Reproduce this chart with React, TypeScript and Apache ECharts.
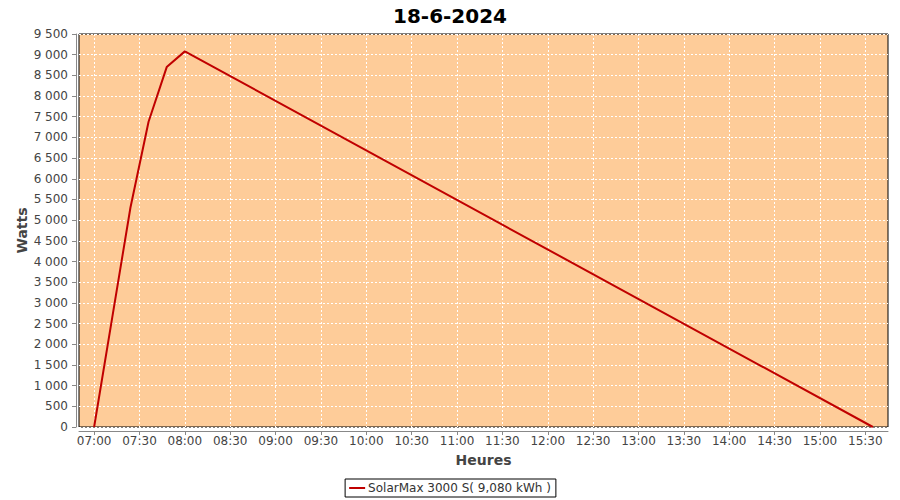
import React, { useEffect, useRef } from "react";
import * as echarts from "echarts";

const title = "18-6-2024";
const seriesName = "SolarMax 3000 S( 9,080 kWh )";
// times in minutes since midnight
const times = [420, 432, 444, 456, 468, 480, 935];
const watts = [0, 2650, 5300, 7380, 8700, 9080, 0];
const xTickMinutes = [420, 450, 480, 510, 540, 570, 600, 630, 660, 690, 720, 750, 780, 810, 840, 870, 900, 930];

const fmtTime = (v: number) => {
  const h = Math.floor(v / 60);
  const m = Math.round(v % 60);
  return String(h).padStart(2, "0") + ":" + String(m).padStart(2, "0");
};
const fmtWatts = (v: number) => {
  const s = String(v);
  return s.length > 3 ? s.slice(0, s.length - 3) + " " + s.slice(-3) : s;
};

export default function App() {
  const ref = useRef<HTMLDivElement>(null);
  useEffect(() => {
    document.body.style.margin = "0";
    if (!ref.current) return;
    const chart = echarts.init(ref.current, null, { renderer: "svg" });
    const font = "DejaVu Sans";
    chart.setOption({
      animation: false,
      backgroundColor: "#ffffff",
      textStyle: { fontFamily: font },
      title: {
        text: title,
        left: "center",
        top: 1,
        textStyle: { fontFamily: font, fontSize: 20, fontWeight: "bold", color: "#000" },
      },
      grid: {
        left: 79,
        right: 12,
        top: 34,
        bottom: 73,
        show: true,
        backgroundColor: "#FECC99",
        borderColor: "#000",
        borderWidth: 1,
      },
      legend: {
        bottom: 3,
        left: "center",
        data: [seriesName],
        icon: "rect",
        itemWidth: 16,
        itemHeight: 2,
        itemGap: 4,
        borderColor: "#000",
        borderWidth: 1,
        borderRadius: 0,
        padding: [3, 5, 3, 4],
        textStyle: { fontFamily: font, fontSize: 12, color: "#333", padding: [0, 0, 0, -2] },
      },
      xAxis: {
        type: "value",
        min: 410,
        max: 945,
        offset: 4,
        name: "Heures",
        nameLocation: "middle",
        nameGap: 22,
        nameMoveOverlap: false,
        nameTextStyle: { fontFamily: font, fontSize: 14, fontWeight: "bold", color: "#444" },
        axisLine: { show: true, onZero: false, lineStyle: { color: "#888", width: 1 } },
        axisTick: { show: true, length: 4, lineStyle: { color: "#888" }, customValues: xTickMinutes },
        axisLabel: {
          customValues: xTickMinutes,
          formatter: (v: number) => fmtTime(v),
          fontFamily: font,
          fontSize: 12,
          color: "#444",
          margin: 4,
        },
        splitLine: { show: true, lineStyle: { color: "#fff", type: [2, 2], width: 1 } },
      },
      yAxis: {
        type: "value",
        min: 0,
        max: 9500,
        interval: 500,
        offset: 3,
        name: "Watts",
        nameLocation: "middle",
        nameGap: 47,
        nameMoveOverlap: false,
        nameRotate: 90,
        nameTextStyle: { fontFamily: font, fontSize: 14, fontWeight: "bold", color: "#444" },
        axisLine: { show: true, lineStyle: { color: "#888", width: 1 } },
        axisTick: { show: true, length: 4, lineStyle: { color: "#888" } },
        axisLabel: {
          formatter: (v: number) => fmtWatts(v),
          fontFamily: font,
          fontSize: 12,
          color: "#444",
          margin: 8,
        },
        splitLine: { show: true, lineStyle: { color: "#fff", type: [2, 2], width: 1 } },
      },
      series: [
        {
          name: seriesName,
          type: "line",
          data: times.map((t, i) => [t, watts[i]]),
          showSymbol: false,
          symbol: "none",
          lineStyle: { color: "#C00000", width: 2 },
          itemStyle: { color: "#C00000" },
        },
      ],
    });
    return () => chart.dispose();
  }, []);
  return <div ref={ref} style={{ width: 900, height: 500 }} />;
}
